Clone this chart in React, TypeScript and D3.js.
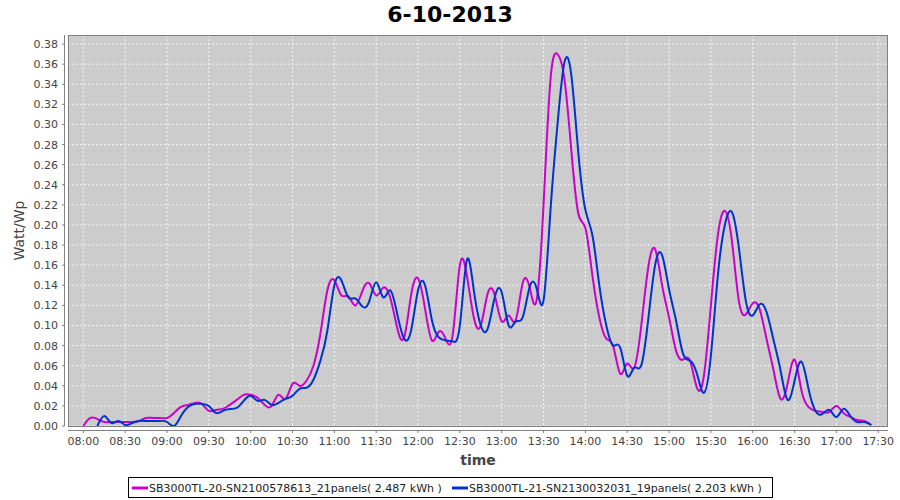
import React from "react";
import * as d3 from "d3";

const TITLE = "6-10-2013";
const X_LABEL = "time";
const Y_LABEL = "Watt/Wp";

const SERIES_NAMES = [
  "SB3000TL-20-SN2100578613_21panels( 2.487 kWh )",
  "SB3000TL-21-SN2130032031_19panels( 2.203 kWh )",
];
const SERIES_COLORS = ["#cc00cc", "#0033cc"];

// sample interval in minutes and first sample time (minutes after 08:00)
const STEP_MIN = 5;
const START_A = 0;
const START_B = 10;

// SB3000TL-20 (magenta), one value every 5 minutes from 08:00
const valuesA = [
  0.0, 0.008, 0.007, 0.004, 0.004, 0.004, 0.004, 0.004, 0.005, 0.008,
  0.008, 0.008, 0.008, 0.013, 0.019, 0.021, 0.023, 0.022, 0.015, 0.016,
  0.017, 0.021, 0.026, 0.031, 0.031, 0.028, 0.021, 0.020, 0.031, 0.027,
  0.042, 0.040, 0.045, 0.060, 0.092, 0.135, 0.145, 0.130, 0.129, 0.120,
  0.134, 0.142, 0.130, 0.1375, 0.128, 0.098, 0.088, 0.130, 0.147, 0.117,
  0.085, 0.094, 0.086, 0.092, 0.160, 0.150, 0.108, 0.100, 0.132, 0.130,
  0.104, 0.110, 0.105, 0.142, 0.138, 0.125, 0.220, 0.345, 0.370, 0.345,
  0.273, 0.211, 0.197, 0.150, 0.108, 0.087, 0.079, 0.052, 0.062, 0.058,
  0.099, 0.157, 0.176, 0.140, 0.108, 0.075, 0.066, 0.065, 0.038, 0.050,
  0.120, 0.190, 0.214, 0.185, 0.125, 0.111, 0.122, 0.116, 0.086, 0.055,
  0.027, 0.042, 0.066, 0.035, 0.019, 0.015, 0.014, 0.014, 0.020, 0.013,
  0.009, 0.006, 0.005, 0.001,
];

// SB3000TL-21 (blue), one value every 5 minutes from 08:10
const valuesB = [
  0.0, 0.010, 0.003, 0.005, 0.001, 0.003, 0.005, 0.005, 0.005, 0.005,
  0.004, 0.0, 0.010, 0.019, 0.022, 0.022, 0.020, 0.013, 0.015, 0.017,
  0.018, 0.025, 0.030, 0.025, 0.026, 0.021, 0.023, 0.027, 0.030, 0.037,
  0.038, 0.046, 0.065, 0.095, 0.140, 0.145, 0.128, 0.127, 0.119, 0.124,
  0.143, 0.128, 0.135, 0.112, 0.087, 0.095, 0.135, 0.140, 0.105, 0.088,
  0.085, 0.084, 0.100, 0.165, 0.135, 0.100, 0.097, 0.128, 0.133, 0.100,
  0.104, 0.108, 0.138, 0.137, 0.125, 0.215, 0.300, 0.362, 0.348, 0.271,
  0.215, 0.190, 0.140, 0.100, 0.080, 0.078, 0.050, 0.058, 0.060, 0.105,
  0.160, 0.170, 0.136, 0.105, 0.072, 0.065, 0.052, 0.033, 0.070, 0.150,
  0.200, 0.213, 0.178, 0.125, 0.110, 0.121, 0.113, 0.085, 0.055, 0.026,
  0.045, 0.064, 0.037, 0.015, 0.012, 0.016, 0.009, 0.017, 0.010, 0.004,
  0.004, 0.001,
];

const Y_TICKS = [
  0.0, 0.02, 0.04, 0.06, 0.08, 0.1, 0.12, 0.14, 0.16, 0.18, 0.2, 0.22, 0.24,
  0.26, 0.28, 0.3, 0.32, 0.34, 0.36, 0.38,
];

const W = 900;
const H = 500;
const PL = 68, PR = 888, PT = 35, PB = 426;
const FONT = "'DejaVu Sans', Verdana, sans-serif";

const base = new Date(2013, 9, 6, 8, 0);
const addMin = (m: number) => new Date(base.getTime() + m * 60000);

export default function App() {
  const x = d3
    .scaleTime()
    .domain([addMin(-11), addMin(577)])
    .range([PL, PR]);
  const y = d3.scaleLinear().domain([0, 0.389]).range([PB, PT]);

  const xTicks = x.ticks(d3.timeMinute.every(30) as any).filter(
    (d) => x(d) >= PL && x(d) <= PR
  );
  const fmt = d3.timeFormat("%H:%M");

  const line = d3
    .line<[Date, number]>()
    .x((d) => x(d[0]))
    .y((d) => y(d[1]))
    .curve(d3.curveNatural);

  const dataA: [Date, number][] = valuesA.map((v, i) => [
    addMin(START_A + i * STEP_MIN),
    v,
  ]);
  const dataB: [Date, number][] = valuesB.map((v, i) => [
    addMin(START_B + i * STEP_MIN),
    v,
  ]);

  const series = [dataA, dataB];

  return (
    <svg
      width={W}
      height={H}
      style={{ position: "absolute", left: 0, top: 0, background: "#fff" }}
      fontFamily={FONT}
    >
      <rect x={0} y={0} width={W} height={H} fill="#ffffff" />
      <text
        x={W / 2}
        y={22}
        textAnchor="middle"
        fontSize={22}
        fontWeight="bold"
        fill="#000"
      >
        {TITLE}
      </text>

      <defs>
        <clipPath id="plotclip">
          <rect x={PL} y={PT} width={PR - PL} height={PB - PT} />
        </clipPath>
      </defs>

      <rect x={PL} y={PT} width={PR - PL} height={PB - PT} fill="#cccccc" />

      {xTicks.map((t, i) => (
        <line
          key={"gx" + i}
          x1={x(t)}
          x2={x(t)}
          y1={PT}
          y2={PB}
          stroke="#ffffff"
          strokeWidth={0.8}
          strokeDasharray="2,2"
        />
      ))}
      {Y_TICKS.map((v, i) => (
        <line
          key={"gy" + i}
          x1={PL}
          x2={PR}
          y1={y(v)}
          y2={y(v)}
          stroke="#ffffff"
          strokeWidth={0.8}
          strokeDasharray="2,2"
        />
      ))}

      <g clipPath="url(#plotclip)">
        {series.map((d, i) => (
          <path
            key={"s" + i}
            d={line(d) || ""}
            fill="none"
            stroke={SERIES_COLORS[i]}
            strokeWidth={2}
            strokeLinejoin="round"
          />
        ))}
      </g>

      <rect
        x={PL + 0.5}
        y={PT + 0.5}
        width={PR - PL - 1}
        height={PB - PT}
        fill="none"
        stroke="#808080"
        strokeWidth={1}
      />

      {/* Y axis */}
      <line x1={64.5} x2={64.5} y1={PT} y2={PB} stroke="#808080" />
      {Y_TICKS.map((v, i) => (
        <g key={"yt" + i}>
          <line
            x1={62}
            x2={64.5}
            y1={y(v)}
            y2={y(v)}
            stroke="#808080"
          />
          <text
            x={58}
            y={y(v) + 4}
            textAnchor="end"
            fontSize={11}
            fill="#444"
          >
            {v.toFixed(2)}
          </text>
        </g>
      ))}
      <text
        transform={`translate(24, ${(PT + PB) / 2}) rotate(-90)`}
        textAnchor="middle"
        fontSize={14}
        fill="#444"
      >
        {Y_LABEL}
      </text>

      {/* X axis */}
      <line x1={PL} x2={PR} y1={430.5} y2={430.5} stroke="#808080" />
      {xTicks.map((t, i) => (
        <g key={"xt" + i}>
          <line
            x1={x(t)}
            x2={x(t)}
            y1={430.5}
            y2={433}
            stroke="#808080"
          />
          <text
            x={x(t)}
            y={445}
            textAnchor="middle"
            fontSize={11}
            fill="#444"
          >
            {fmt(t)}
          </text>
        </g>
      ))}
      <text
        x={(PL + PR) / 2}
        y={465}
        textAnchor="middle"
        fontSize={14}
        fontWeight="bold"
        fill="#444"
      >
        {X_LABEL}
      </text>

      {/* Legend */}
      <rect
        x={128.5}
        y={477.5}
        width={644}
        height={20}
        fill="#fff"
        stroke="#000"
      />
      <line x1={132} x2={148} y1={488} y2={488} stroke={SERIES_COLORS[0]} strokeWidth={3} />
      <text x={149} y={492} fontSize={11} fill="#222">
        {SERIES_NAMES[0]}
      </text>
      <line x1={452} x2={468} y1={488} y2={488} stroke={SERIES_COLORS[1]} strokeWidth={3} />
      <text x={469} y={492} fontSize={11} fill="#222">
        {SERIES_NAMES[1]}
      </text>
    </svg>
  );
}
